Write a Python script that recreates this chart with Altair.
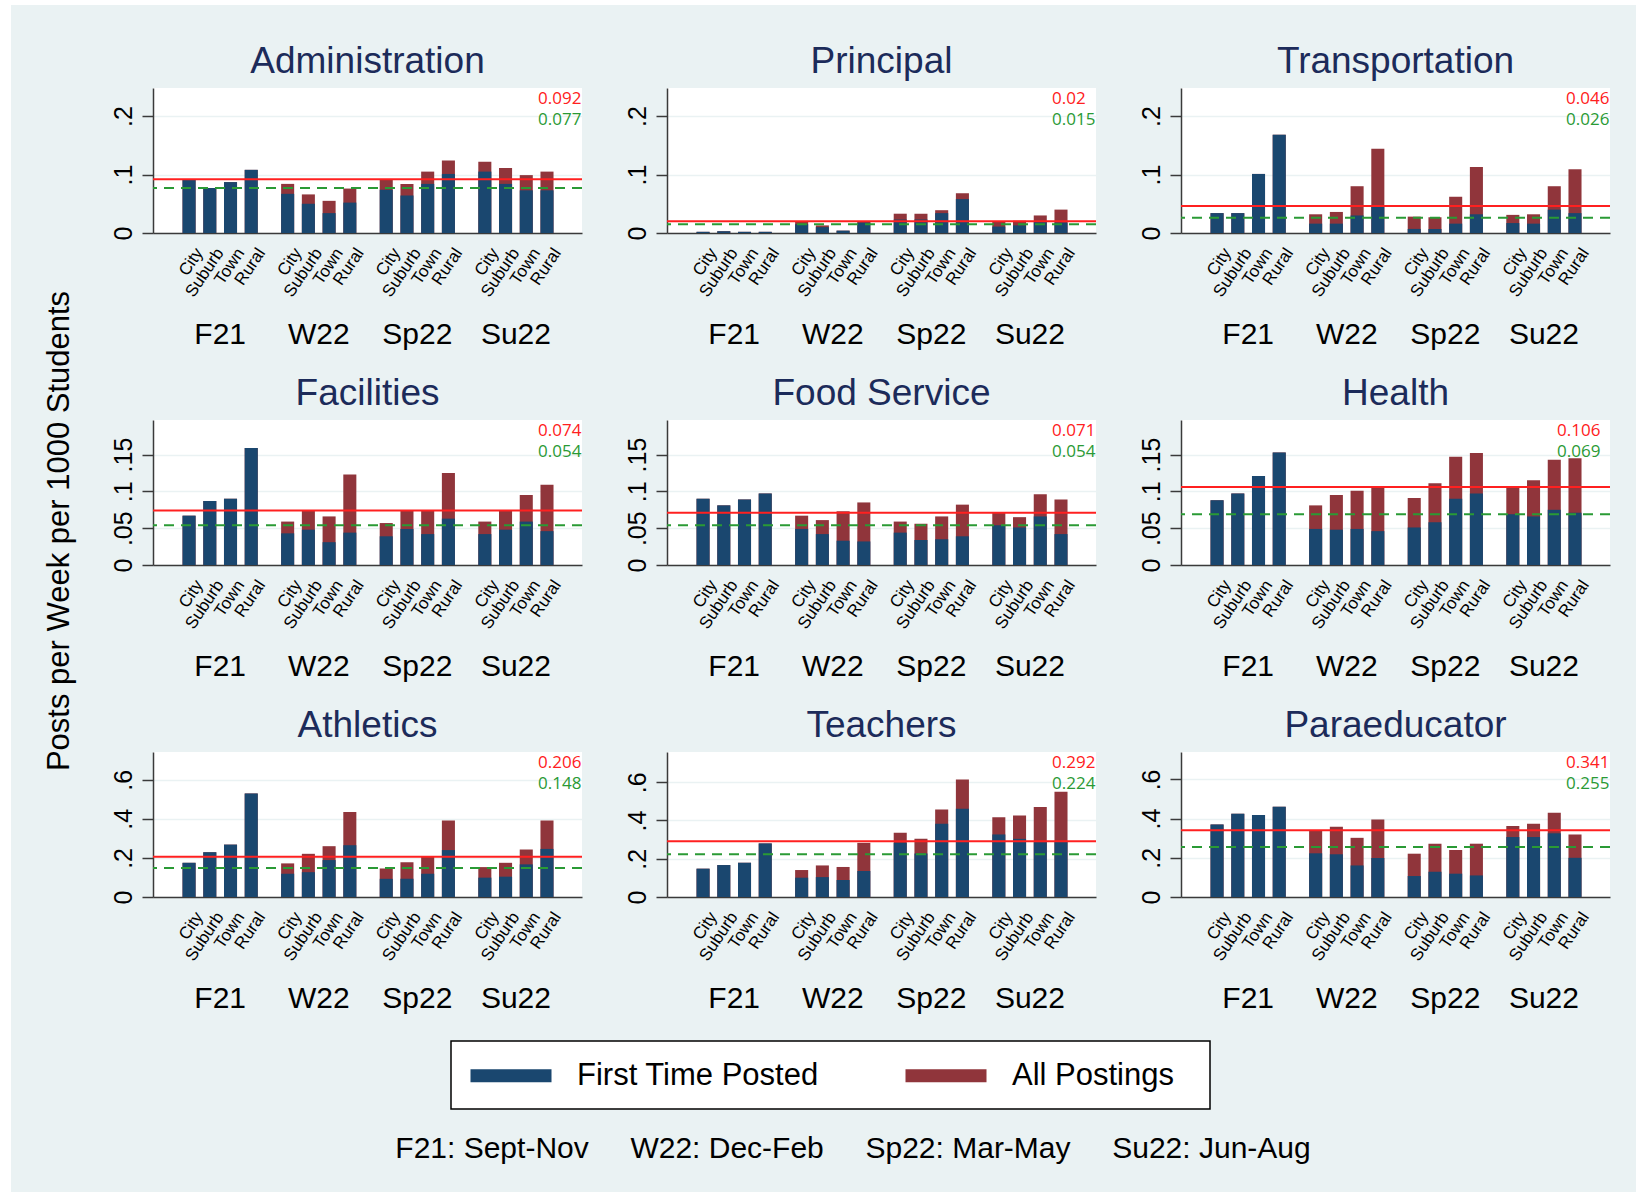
import altair as alt
import pandas as pd

# ---- data -------------------------------------------------------------
locales = ["City", "Suburb", "Town", "Rural"]
seasons = ["F21", "W22", "Sp22", "Su22"]
season_notes = ["F21: Sept-Nov", "W22: Dec-Feb", "Sp22: Mar-May", "Su22: Jun-Aug"]

categories = ["Administration", "Principal", "Transportation",
              "Facilities", "Food Service", "Health",
              "Athletics", "Teachers", "Paraeducator"]

# posts per week per 1000 students, ordered season by season (City, Suburb, Town, Rural)
admin_first = [0.091, 0.077, 0.087, 0.108, 0.067, 0.050, 0.034, 0.052,
               0.074, 0.064, 0.084, 0.101, 0.105, 0.084, 0.073, 0.073]
admin_all = [0.091, 0.077, 0.087, 0.108, 0.084, 0.066, 0.055, 0.076,
             0.092, 0.084, 0.105, 0.124, 0.122, 0.111, 0.099, 0.105]

principal_first = [0.002, 0.003, 0.002, 0.002, 0.015, 0.010, 0.004, 0.018,
                   0.023, 0.023, 0.034, 0.058, 0.011, 0.013, 0.020, 0.018]
principal_all = [0.002, 0.003, 0.002, 0.002, 0.020, 0.013, 0.004, 0.020,
                 0.033, 0.033, 0.039, 0.068, 0.020, 0.021, 0.030, 0.040]

transport_first = [0.034, 0.034, 0.101, 0.168, 0.016, 0.016, 0.030, 0.047,
                   0.007, 0.007, 0.016, 0.032, 0.017, 0.016, 0.040, 0.034]
transport_all = [0.034, 0.034, 0.101, 0.168, 0.032, 0.036, 0.080, 0.144,
                 0.028, 0.027, 0.062, 0.113, 0.031, 0.032, 0.080, 0.109]

facilities_first = [0.067, 0.087, 0.090, 0.159, 0.043, 0.048, 0.031, 0.044,
                    0.039, 0.049, 0.042, 0.063, 0.042, 0.048, 0.059, 0.046]
facilities_all = [0.067, 0.087, 0.090, 0.159, 0.059, 0.074, 0.066, 0.123,
                  0.057, 0.074, 0.074, 0.125, 0.059, 0.074, 0.095, 0.109]

food_first = [0.090, 0.081, 0.089, 0.097, 0.049, 0.042, 0.033, 0.032,
              0.044, 0.034, 0.035, 0.039, 0.054, 0.051, 0.066, 0.042]
food_all = [0.090, 0.081, 0.089, 0.097, 0.067, 0.061, 0.073, 0.085,
            0.059, 0.056, 0.066, 0.082, 0.071, 0.065, 0.096, 0.089]

health_first = [0.088, 0.097, 0.121, 0.153, 0.049, 0.048, 0.049, 0.046,
                0.051, 0.058, 0.090, 0.097, 0.069, 0.066, 0.075, 0.071]
health_all = [0.088, 0.097, 0.121, 0.153, 0.081, 0.095, 0.101, 0.105,
              0.091, 0.111, 0.147, 0.152, 0.107, 0.115, 0.143, 0.145]

athletics_first = [0.175, 0.229, 0.268, 0.530, 0.119, 0.127, 0.189, 0.265,
                   0.093, 0.093, 0.119, 0.240, 0.099, 0.104, 0.167, 0.246]
athletics_all = [0.175, 0.229, 0.268, 0.530, 0.172, 0.221, 0.260, 0.435,
                 0.146, 0.178, 0.209, 0.391, 0.153, 0.175, 0.243, 0.391]

teachers_first = [0.148, 0.167, 0.179, 0.280, 0.101, 0.104, 0.089, 0.136,
                  0.283, 0.228, 0.383, 0.461, 0.327, 0.304, 0.287, 0.292]
teachers_all = [0.148, 0.167, 0.179, 0.280, 0.141, 0.165, 0.157, 0.283,
                0.336, 0.304, 0.457, 0.614, 0.417, 0.426, 0.470, 0.550]

para_first = [0.370, 0.425, 0.418, 0.460, 0.223, 0.218, 0.161, 0.199,
              0.107, 0.129, 0.119, 0.110, 0.306, 0.306, 0.325, 0.200]
para_all = [0.370, 0.425, 0.418, 0.460, 0.342, 0.359, 0.302, 0.396,
            0.221, 0.272, 0.240, 0.272, 0.362, 0.374, 0.430, 0.319]

# overall means shown as reference lines
mean_all = [0.092, 0.02, 0.046, 0.074, 0.071, 0.106, 0.206, 0.292, 0.341]
mean_first = [0.077, 0.015, 0.026, 0.054, 0.054, 0.069, 0.148, 0.224, 0.255]

first_series = [admin_first, principal_first, transport_first,
                facilities_first, food_first, health_first,
                athletics_first, teachers_first, para_first]
all_series = [admin_all, principal_all, transport_all,
              facilities_all, food_all, health_all,
              athletics_all, teachers_all, para_all]

y_top = [0.248, 0.248, 0.248, 0.197, 0.197, 0.197, 0.742, 0.758, 0.740]
y_ticks_by_row = [[0, 0.1, 0.2], [0, 0.05, 0.1, 0.15], [0, 0.2, 0.4, 0.6]]

# ---- layout & style ---------------------------------------------------
W, H = 429, 145
GROUP = 4.757          # spacing between season groups, in bar slots
HALF = 0.315           # half bar width, in bar slots
X_DOMAIN = [-1.74, 18.96]

NAVY = "#1a476f"
MAROON = "#90353b"
RED = "#ff2020"
GREEN = "#2a9a35"
AXIS = "#3a3a3a"
BG = "#eaf2f3"
FONT = "Liberation Sans"

series_names = ["First Time Posted", "All Postings"]
color = alt.Color(
    "series:N",
    scale=alt.Scale(domain=series_names, range=[NAVY, MAROON]),
    legend=alt.Legend(
        orient="none", legendX=298, legendY=953, direction="horizontal",
        title=None,
        symbolType="M-1,-0.433L4.4,-0.433L4.4,0.433L-1,0.433Z",
        symbolSize=900, symbolStrokeWidth=0, symbolOpacity=1,
        labelFont=FONT, labelFontSize=31, labelColor="black",
        labelOffset=76, labelLimit=0, labelBaseline="middle",
        columnPadding=86, padding=19,
    ),
)

x_scale = alt.Scale(domain=X_DOMAIN, nice=False, zero=False)
x_axis = alt.Axis(labels=False, ticks=False, grid=False, title=None,
                  domainColor=AXIS, domainWidth=1.5)


def panel(i):
    cat = categories[i]
    rows = []
    for name, vals in (("All Postings", all_series[i]), ("First Time Posted", first_series[i])):
        for g, s in enumerate(seasons):
            for j, loc in enumerate(locales):
                pos = g * GROUP + j
                rows.append(dict(series=name, season=s, locale=loc,
                                 value=vals[g * 4 + j],
                                 x0=pos - HALF, x1=pos + HALF, lab=pos + 0.5))
    bars_df = pd.DataFrame(rows)
    labels_df = bars_df[bars_df.series == "First Time Posted"]
    seasons_df = pd.DataFrame({"season": seasons,
                               "center": [g * GROUP + 1.5 for g in range(4)]})
    means_df = pd.DataFrame({"ma": [mean_all[i]], "mf": [mean_first[i]]})

    y_scale = alt.Scale(domain=[0, y_top[i]], nice=False, zero=True)
    y_axis = alt.Axis(
        values=y_ticks_by_row[i // 3], title=None,
        labelExpr="datum.value == 0 ? '0' : replace(toString(datum.value), '0.', '.')",
        labelAngle=270, labelAlign="center", labelBaseline="alphabetic",
        labelPadding=11, labelFont=FONT, labelFontSize=25, labelColor="black",
        labelOverlap=False,
        tickSize=11, tickColor=AXIS, tickWidth=1.5,
        domainColor=AXIS, domainWidth=1.5,
        gridColor=BG, gridWidth=1.5,
    )

    bars = alt.Chart(bars_df).mark_bar().encode(
        x=alt.X("x0:Q", scale=x_scale, axis=x_axis),
        x2="x1",
        y=alt.Y("value:Q", scale=y_scale, axis=y_axis, stack=None),
        y2=alt.datum(0),
        color=color,
    )
    red_rule = alt.Chart(means_df).mark_rule(color=RED, strokeWidth=2).encode(
        y=alt.Y("ma:Q", scale=y_scale, axis=y_axis))
    green_rule = alt.Chart(means_df).mark_rule(
        color=GREEN, strokeWidth=2, strokeDash=[10, 7]).encode(
        y=alt.Y("mf:Q", scale=y_scale, axis=y_axis))

    tx = 376 if cat == "Health" else 385
    red_text = alt.Chart(means_df).mark_text(
        align="left", baseline="alphabetic", font="Open Sans", fontSize=17, color=RED
    ).encode(x=alt.value(tx), y=alt.value(16), text=alt.Text("ma:Q", format=".3~f"))
    green_text = alt.Chart(means_df).mark_text(
        align="left", baseline="alphabetic", font="Open Sans", fontSize=17, color=GREEN
    ).encode(x=alt.value(tx), y=alt.value(37), text=alt.Text("mf:Q", format=".3~f"))

    locale_text = alt.Chart(labels_df).mark_text(
        angle=304, align="right", baseline="middle", font=FONT, fontSize=17, color="black"
    ).encode(x=alt.X("lab:Q", scale=x_scale, axis=x_axis),
             y=alt.value(H + 17), text="locale:N")
    season_text = alt.Chart(seasons_df).mark_text(
        align="center", baseline="alphabetic", font=FONT, fontSize=30, color="black"
    ).encode(x=alt.X("center:Q", scale=x_scale, axis=x_axis),
             y=alt.value(H + 111), text="season:N")

    return alt.layer(
        bars, red_rule, green_rule, red_text, green_text, locale_text, season_text
    ).properties(
        width=W, height=H,
        view=alt.ViewBackground(fill="white", stroke=None),
        title=alt.Title(cat, fontSize=37, font=FONT, fontWeight="normal",
                        color="#1c2b5a", anchor="middle", frame="group",
                        baseline="alphabetic", offset=0, dy=22),
    )


panels = [panel(i) for i in range(9)]

# ---- page furniture: shared axis title, legend frame, season key, margins
one = alt.Data(values=[{}])
left_strip = alt.Chart(one).mark_rect(color="white").encode(
    x=alt.value(-153), x2=alt.value(-142), y=alt.value(-1084), y2=alt.value(108))
top_strip = alt.Chart(one).mark_rect(color="white").encode(
    x=alt.value(-153), x2=alt.value(1483), y=alt.value(-1084), y2=alt.value(-1079))
corner = alt.Chart(one).mark_rect(color=BG).encode(
    x=alt.value(1482), x2=alt.value(1483), y=alt.value(107), y2=alt.value(108))
legend_frame = alt.Chart(one).mark_rect(
    fill="white", stroke="black", strokeWidth=1.5
).encode(x=alt.value(298), x2=alt.value(1057), y=alt.value(-43), y2=alt.value(25))
y_title = alt.Chart(one).mark_text(
    text="Posts per Week per 1000 Students", angle=270, align="center",
    baseline="middle", font=FONT, fontSize=31, color="black"
).encode(x=alt.value(-93), y=alt.value(-553))
caption = alt.Chart(one).mark_text(
    text=("\u00a0" * 5).join(season_notes), align="center", baseline="middle",
    font=FONT, fontSize=30, color="black"
).encode(x=alt.value(700), y=alt.value(65))

furniture = alt.layer(
    left_strip, top_strip, corner, legend_frame, y_title, caption
).properties(width=1, height=1)

chart = alt.concat(
    *panels, furniture, columns=3, bounds="flush",
    spacing=alt.RowColnumber(row=187, column=85),
).properties(
    padding=0, background=BG,
).configure_view(stroke=None)

chart.save("out.html", embed_options={"renderer": "svg", "actions": False})
